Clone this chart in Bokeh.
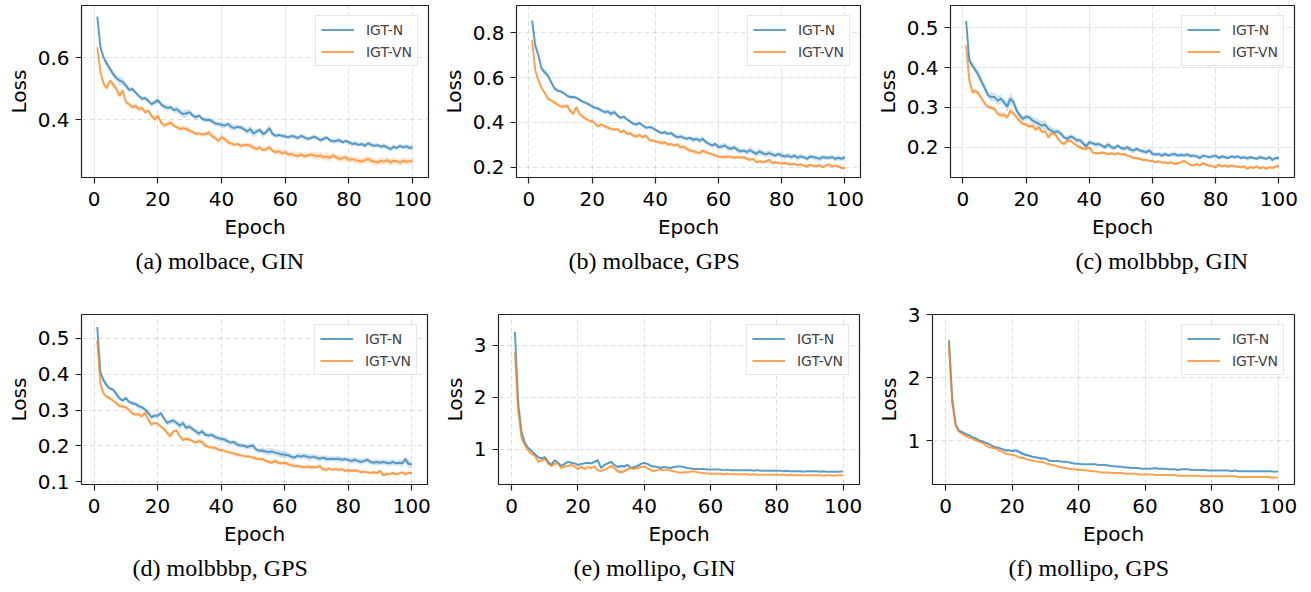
from bokeh.plotting import figure
from bokeh.layouts import row, column
from bokeh.models import FixedTicker, Range1d, Title
from bokeh.embed import file_html
from bokeh.resources import INLINE

epochs = list(range(1, 101))
xticks = [0, 20, 40, 60, 80, 100]
series_names = ["IGT-N", "IGT-VN"]

# ---------------- (a) molbace, GIN ----------------
a_n = [0.732,0.633,0.600,0.580,0.563,0.547,0.534,0.526,0.522,0.510,
       0.496,0.499,0.488,0.477,0.467,0.470,0.461,0.450,0.456,0.463,
       0.450,0.442,0.438,0.440,0.431,0.434,0.424,0.418,0.421,0.424,
       0.413,0.408,0.413,0.402,0.399,0.400,0.395,0.388,0.386,0.384,
       0.381,0.386,0.377,0.373,0.377,0.375,0.370,0.362,0.370,0.356,
       0.362,0.367,0.354,0.359,0.373,0.354,0.348,0.351,0.348,0.346,
       0.343,0.348,0.345,0.341,0.348,0.343,0.338,0.341,0.345,0.341,
       0.334,0.338,0.343,0.334,0.330,0.332,0.334,0.327,0.332,0.327,
       0.322,0.324,0.319,0.322,0.316,0.324,0.319,0.316,0.318,0.313,
       0.316,0.311,0.305,0.313,0.309,0.316,0.311,0.314,0.309,0.311]
a_vn = [0.633,0.553,0.515,0.502,0.526,0.513,0.499,0.477,0.494,0.456,
        0.450,0.440,0.445,0.434,0.438,0.424,0.429,0.413,0.402,0.413,
        0.391,0.381,0.386,0.391,0.381,0.375,0.370,0.373,0.370,0.365,
        0.361,0.354,0.356,0.352,0.354,0.359,0.348,0.341,0.332,0.343,
        0.338,0.327,0.324,0.319,0.322,0.316,0.318,0.319,0.316,0.311,
        0.305,0.311,0.302,0.305,0.311,0.300,0.295,0.298,0.292,0.295,
        0.288,0.290,0.285,0.283,0.288,0.282,0.285,0.288,0.285,0.282,
        0.285,0.279,0.282,0.277,0.285,0.279,0.273,0.277,0.279,0.270,
        0.273,0.270,0.268,0.265,0.270,0.273,0.268,0.265,0.262,0.268,
        0.265,0.270,0.262,0.268,0.266,0.262,0.268,0.265,0.266,0.266]
a_n_sd = [8,6,6,8,10,12,10,14,12,10, 8,8,6,7,8,6,8,7,9,10, 8,9,10,8,9,12,10,14,12,10,
          8,9,7,8,10,8,7,9,8,10, 9,8,12,10,8,9,7,10,12,14, 10,8,12,9,10,8,7,6,8,7,
          6,7,8,6,7,8,7,6,8,7, 8,7,6,8,7,9,8,7,6,8, 7,8,6,7,8,7,9,8,7,8, 9,8,7,8,6,8,7,9,8,8]
a_vn_sd = [6,8,10,8,7,9,8,10,8,7, 6,7,8,10,9,8,7,8,10,9, 8,7,9,8,7,6,8,7,9,8,
           7,8,6,7,8,9,8,7,10,8, 7,9,8,7,6,8,7,9,8,10, 9,8,7,8,9,7,8,9,10,8,
           9,10,8,12,10,9,8,10,12,11, 12,10,13,12,10,9,11,10,12,10, 9,10,12,10,11,10,12,10,9,11,
           10,12,10,11,9,12,10,11,10,9]

# ---------------- (b) molbace, GPS ----------------
b_n = [0.855,0.743,0.699,0.639,0.624,0.609,0.580,0.554,0.542,0.539,
       0.531,0.520,0.513,0.513,0.510,0.501,0.493,0.487,0.480,0.471,
       0.465,0.461,0.453,0.446,0.449,0.438,0.446,0.431,0.420,0.426,
       0.413,0.405,0.394,0.391,0.397,0.386,0.376,0.379,0.376,0.367,
       0.359,0.352,0.356,0.349,0.352,0.341,0.334,0.337,0.331,0.327,
       0.331,0.322,0.327,0.319,0.327,0.312,0.304,0.297,0.304,0.289,
       0.292,0.297,0.286,0.282,0.289,0.277,0.271,0.274,0.267,0.277,
       0.267,0.260,0.271,0.263,0.257,0.263,0.257,0.252,0.260,0.252,
       0.248,0.252,0.245,0.252,0.242,0.248,0.245,0.237,0.248,0.245,
       0.242,0.237,0.245,0.242,0.242,0.245,0.237,0.242,0.237,0.245]
b_vn = [0.769,0.632,0.587,0.554,0.531,0.505,0.498,0.490,0.480,0.471,
        0.471,0.475,0.453,0.438,0.468,0.438,0.426,0.416,0.408,0.405,
        0.394,0.382,0.391,0.382,0.376,0.371,0.367,0.371,0.356,0.364,
        0.349,0.352,0.341,0.337,0.344,0.334,0.341,0.322,0.319,0.316,
        0.312,0.307,0.312,0.301,0.304,0.297,0.301,0.289,0.292,0.282,
        0.274,0.271,0.267,0.263,0.274,0.267,0.263,0.257,0.252,0.248,
        0.245,0.245,0.248,0.245,0.242,0.245,0.242,0.245,0.237,0.233,
        0.237,0.222,0.227,0.222,0.225,0.233,0.218,0.222,0.219,0.218,
        0.219,0.215,0.212,0.215,0.210,0.212,0.207,0.204,0.210,0.207,
        0.204,0.210,0.200,0.207,0.212,0.203,0.207,0.204,0.196,0.196]
b_n_sd = [10,12,8,10,14,12,10,8,9,7, 8,7,9,8,7,6,8,7,9,8, 9,10,8,12,10,14,12,10,9,8,
          7,9,8,10,9,8,7,9,8,7, 9,8,10,9,8,12,10,9,11,10, 9,12,10,14,12,10,9,11,10,12,
          14,12,15,13,12,14,12,10,13,15, 14,12,16,13,12,14,15,12,11,13, 12,14,12,11,13,12,10,12,11,12,
          11,13,12,10,11,12,10,12,11,10]
b_vn_sd = [8,10,9,7,8,6,7,8,9,8, 10,9,8,11,10,9,8,7,6,8, 7,6,8,7,9,8,7,6,8,7,
           8,7,9,10,8,9,8,7,6,8, 9,10,8,7,9,8,10,9,8,12, 11,10,9,8,10,9,8,7,9,8,
           7,8,9,8,7,6,8,7,9,8, 7,6,8,7,6,8,7,6,7,8, 6,7,8,6,7,8,7,6,7,8, 7,8,6,7,8,6,7,8,7,6]

# ---------------- (c) molbbbp, GIN ----------------
c_n = [0.517,0.418,0.405,0.393,0.380,0.363,0.347,0.330,0.326,0.326,
       0.317,0.322,0.313,0.302,0.322,0.313,0.292,0.280,0.271,0.277,
       0.275,0.267,0.263,0.259,0.254,0.257,0.246,0.242,0.238,0.240,
       0.234,0.225,0.221,0.227,0.224,0.217,0.218,0.210,0.202,0.213,
       0.210,0.207,0.208,0.204,0.200,0.207,0.200,0.198,0.204,0.198,
       0.196,0.200,0.194,0.192,0.196,0.192,0.190,0.187,0.192,0.183,
       0.182,0.183,0.179,0.183,0.179,0.182,0.183,0.179,0.181,0.179,
       0.182,0.178,0.179,0.177,0.173,0.179,0.177,0.175,0.177,0.179,
       0.173,0.177,0.175,0.173,0.177,0.175,0.177,0.173,0.175,0.172,
       0.175,0.173,0.171,0.175,0.173,0.171,0.175,0.168,0.173,0.173]
c_vn = [0.456,0.368,0.338,0.342,0.334,0.321,0.309,0.301,0.299,0.296,
        0.284,0.280,0.282,0.275,0.292,0.285,0.275,0.265,0.259,0.257,
        0.252,0.254,0.244,0.250,0.238,0.240,0.225,0.235,0.234,0.223,
        0.213,0.208,0.215,0.217,0.210,0.204,0.200,0.196,0.196,0.200,
        0.187,0.185,0.185,0.187,0.185,0.183,0.185,0.182,0.185,0.182,
        0.183,0.179,0.177,0.173,0.173,0.171,0.168,0.168,0.166,0.165,
        0.162,0.165,0.161,0.162,0.160,0.162,0.158,0.160,0.162,0.166,
        0.160,0.156,0.154,0.158,0.154,0.160,0.156,0.154,0.152,0.150,
        0.156,0.152,0.154,0.151,0.154,0.152,0.151,0.150,0.152,0.146,
        0.150,0.148,0.152,0.147,0.150,0.146,0.150,0.148,0.151,0.154]
c_n_sd = [10,12,10,8,12,10,9,8,12,10, 12,10,9,14,16,12,10,9,8,7, 8,9,12,10,11,12,9,8,10,7,
          6,7,8,6,7,8,6,7,8,7, 6,7,5,6,7,8,6,7,5,6, 7,6,8,7,6,5,7,6,8,7,
          6,5,7,6,5,6,7,5,6,5, 6,5,4,5,6,5,4,5,6,5, 5,6,5,4,5,6,5,4,5,6, 5,4,5,6,5,4,5,6,5,5]
c_vn_sd = [6,8,6,7,5,6,5,4,5,6, 5,6,7,6,8,7,6,5,4,5, 4,5,6,5,4,5,6,5,4,5,
           4,5,4,5,4,3,4,5,4,3, 4,3,4,3,4,3,4,3,4,3, 3,4,3,4,3,4,3,4,3,4,
           3,4,3,4,3,4,3,4,3,4, 3,4,3,4,3,4,3,4,3,4, 3,4,3,4,3,4,3,4,3,4, 3,4,3,4,3,4,3,4,3,4]

# ---------------- (d) molbbbp, GPS ----------------
d_n = [0.532,0.406,0.383,0.369,0.360,0.357,0.345,0.333,0.326,0.334,
       0.323,0.319,0.317,0.311,0.308,0.302,0.293,0.280,0.284,0.284,
       0.291,0.277,0.264,0.268,0.271,0.264,0.256,0.264,0.250,0.254,
       0.247,0.241,0.234,0.241,0.231,0.229,0.231,0.225,0.222,0.220,
       0.218,0.213,0.209,0.211,0.204,0.201,0.201,0.197,0.199,0.201,
       0.190,0.186,0.187,0.184,0.183,0.184,0.181,0.179,0.176,0.176,
       0.174,0.170,0.167,0.172,0.170,0.172,0.170,0.167,0.170,0.167,
       0.164,0.167,0.164,0.163,0.164,0.163,0.164,0.161,0.163,0.160,
       0.158,0.161,0.158,0.155,0.158,0.161,0.155,0.153,0.155,0.153,
       0.155,0.153,0.151,0.155,0.151,0.153,0.151,0.163,0.149,0.149]
d_vn = [0.494,0.374,0.346,0.337,0.333,0.326,0.319,0.311,0.310,0.308,
        0.300,0.291,0.287,0.289,0.282,0.293,0.275,0.259,0.264,0.262,
        0.254,0.247,0.236,0.227,0.241,0.243,0.227,0.216,0.220,0.218,
        0.213,0.209,0.213,0.211,0.201,0.197,0.195,0.195,0.190,0.188,
        0.186,0.183,0.181,0.179,0.176,0.174,0.172,0.170,0.170,0.167,
        0.164,0.163,0.164,0.158,0.155,0.153,0.158,0.153,0.151,0.153,
        0.149,0.146,0.144,0.144,0.142,0.140,0.142,0.140,0.141,0.140,
        0.144,0.135,0.133,0.137,0.133,0.135,0.133,0.135,0.130,0.132,
        0.130,0.132,0.130,0.126,0.128,0.126,0.124,0.126,0.124,0.130,
        0.118,0.121,0.121,0.124,0.121,0.123,0.126,0.121,0.124,0.124]
d_n_sd = [6,8,7,6,5,6,7,6,5,6, 5,6,7,8,7,6,5,6,7,6, 7,6,8,7,9,8,10,9,8,7,
          8,7,9,8,7,8,7,9,8,7, 8,7,6,7,8,7,6,8,7,9, 8,7,9,8,10,9,8,9,10,9,
          8,9,7,8,9,8,10,9,8,9, 8,7,9,8,7,8,9,8,7,8, 9,8,7,8,9,8,7,8,9,8, 7,8,9,8,7,8,9,8,10,9]
d_vn_sd = [5,6,5,4,5,4,5,6,5,4, 5,4,6,5,4,5,6,5,4,5, 4,5,6,5,4,5,4,5,6,5,
           4,5,6,7,6,5,4,5,6,5, 4,5,4,5,6,5,4,5,4,5, 4,5,4,5,6,5,6,7,6,5,
           6,7,6,7,6,5,6,7,6,5, 6,5,6,5,4,5,6,5,4,5, 4,5,4,5,4,5,4,5,4,5, 4,5,4,5,4,5,4,5,4,5]

# ---------------- (e) mollipo, GIN ----------------
e_n = [3.26,1.87,1.33,1.12,1.03,0.97,0.91,0.85,0.82,0.85,
       0.76,0.70,0.79,0.74,0.68,0.72,0.76,0.74,0.73,0.70,
       0.72,0.73,0.74,0.73,0.76,0.79,0.64,0.70,0.73,0.76,
       0.70,0.66,0.68,0.67,0.70,0.64,0.66,0.68,0.72,0.74,
       0.72,0.68,0.67,0.66,0.64,0.66,0.65,0.64,0.66,0.67,
       0.67,0.66,0.64,0.63,0.62,0.62,0.62,0.62,0.61,0.61,
       0.61,0.61,0.61,0.60,0.61,0.60,0.60,0.60,0.60,0.60,
       0.60,0.60,0.59,0.60,0.59,0.59,0.59,0.59,0.59,0.59,
       0.59,0.58,0.59,0.58,0.58,0.58,0.58,0.57,0.58,0.58,
       0.58,0.58,0.57,0.58,0.57,0.57,0.57,0.57,0.57,0.58]
e_vn = [2.87,1.75,1.21,1.08,0.98,0.91,0.88,0.76,0.78,0.82,
        0.73,0.68,0.72,0.73,0.64,0.67,0.68,0.70,0.67,0.62,
        0.67,0.62,0.66,0.64,0.67,0.60,0.58,0.61,0.64,0.68,
        0.64,0.58,0.56,0.58,0.62,0.64,0.62,0.64,0.66,0.67,
        0.64,0.60,0.58,0.60,0.61,0.60,0.61,0.59,0.58,0.56,
        0.55,0.56,0.56,0.57,0.58,0.56,0.55,0.54,0.54,0.53,
        0.53,0.53,0.53,0.52,0.53,0.52,0.52,0.52,0.52,0.52,
        0.52,0.51,0.52,0.51,0.51,0.51,0.51,0.51,0.51,0.51,
        0.51,0.51,0.50,0.51,0.50,0.50,0.50,0.50,0.50,0.50,
        0.50,0.50,0.50,0.49,0.50,0.50,0.49,0.50,0.50,0.50]
e_n_sd = [30,25,20,15,12,10,12,15,20,18, 15,12,15,12,10,12,14,12,10,12, 14,12,15,18,25,35,25,20,15,18,
          20,25,30,28,20,15,12,10,15,18, 15,12,10,12,14,12,10,8,10,8, 8,7,8,7,6,7,6,7,6,5,
          6,5,6,5,6,5,6,5,6,5, 5,6,5,6,5,6,5,6,5,6, 5,6,5,6,5,6,5,6,5,6, 5,6,5,6,5,6,5,6,5,6]
e_vn_sd = [25,20,15,12,10,12,10,12,15,12, 12,10,12,14,12,10,12,10,12,10, 12,10,12,10,12,14,12,15,20,25,
           30,38,42,35,25,20,15,12,10,12, 10,12,10,8,10,8,7,8,7,6, 6,5,6,5,6,5,6,5,6,5,
           5,4,5,4,5,4,5,4,5,4, 5,4,5,4,5,4,5,4,5,4, 5,4,5,4,5,4,5,4,5,4, 5,4,5,4,5,4,5,4,5,4]

# ---------------- (f) mollipo, GPS ----------------
f_n = [2.59,1.64,1.26,1.16,1.14,1.11,1.09,1.06,1.04,1.01,
       0.99,0.97,0.95,0.92,0.90,0.89,0.87,0.85,0.85,0.84,
       0.85,0.83,0.80,0.78,0.77,0.75,0.74,0.73,0.72,0.72,
       0.69,0.68,0.68,0.68,0.67,0.67,0.66,0.65,0.64,0.64,
       0.63,0.63,0.63,0.63,0.63,0.62,0.62,0.62,0.61,0.60,
       0.60,0.59,0.59,0.58,0.58,0.57,0.57,0.57,0.56,0.56,
       0.56,0.56,0.57,0.56,0.56,0.56,0.55,0.55,0.55,0.54,
       0.55,0.55,0.55,0.54,0.54,0.54,0.54,0.54,0.53,0.53,
       0.53,0.53,0.53,0.53,0.53,0.52,0.53,0.52,0.52,0.52,
       0.52,0.52,0.52,0.52,0.52,0.52,0.52,0.52,0.51,0.52]
f_vn = [2.53,1.61,1.25,1.15,1.11,1.08,1.05,1.04,1.01,0.99,
        0.97,0.93,0.90,0.89,0.88,0.85,0.83,0.80,0.79,0.78,
        0.77,0.74,0.73,0.72,0.70,0.69,0.68,0.67,0.67,0.65,
        0.63,0.62,0.61,0.59,0.58,0.57,0.56,0.55,0.55,0.54,
        0.54,0.53,0.53,0.52,0.52,0.51,0.50,0.50,0.50,0.49,
        0.49,0.49,0.49,0.48,0.48,0.48,0.48,0.47,0.47,0.47,
        0.47,0.47,0.46,0.46,0.46,0.46,0.46,0.46,0.46,0.45,
        0.45,0.45,0.45,0.45,0.45,0.45,0.44,0.44,0.44,0.44,
        0.44,0.44,0.44,0.44,0.44,0.44,0.44,0.43,0.43,0.43,
        0.43,0.43,0.43,0.43,0.43,0.43,0.43,0.42,0.42,0.42]
f_n_sd = [30,20,15,12,10,9,8,9,8,7, 8,9,8,9,10,12,15,20,25,28, 30,28,25,22,20,18,20,22,15,12,
          10,9,8,9,8,9,8,7,8,7, 8,7,8,7,8,7,8,7,8,7, 7,6,7,6,7,6,7,6,7,6,
          6,7,6,7,6,7,6,7,6,7, 6,7,6,7,6,7,6,7,6,7, 6,7,6,7,6,7,6,7,6,7, 6,7,6,7,6,7,6,7,6,7]
f_vn_sd = [20,15,10,8,7,6,7,6,7,6, 7,6,7,8,7,8,9,10,9,8, 9,8,7,8,7,6,7,6,7,6,
           5,6,5,6,5,6,5,6,5,6, 5,6,5,6,5,6,5,6,5,6, 5,6,5,6,5,6,5,6,5,6,
           5,6,5,6,5,6,5,6,5,6, 5,6,5,6,5,6,5,6,5,6, 5,6,5,6,5,6,5,6,5,6, 5,6,5,6,5,6,5,6,5,6]

BLUE = "#1f77b4"
ORANGE = "#ff7f0e"
DARK = "#222222"
FONT = "DejaVu Sans"


def panel(n, vn, n_sd, vn_sd, y0, y1, yticks, caption,
          w, h, bl, br, bt, bb, cap_off):
    p = figure(width=w, height=h, x_range=Range1d(-3.95, 104.95), y_range=Range1d(y0, y1),
               output_backend="svg", toolbar_location=None,
               min_border_left=bl, min_border_right=br, min_border_top=bt, min_border_bottom=bb)
    p.background_fill_color = "white"
    p.border_fill_color = "white"
    p.outline_line_color = DARK
    p.outline_line_width = 1.2

    for m, sd, col, lab in ((n, n_sd, BLUE, series_names[0]), (vn, vn_sd, ORANGE, series_names[1])):
        lo = [v - s / 1000.0 for v, s in zip(m, sd)]
        hi = [v + s / 1000.0 for v, s in zip(m, sd)]
        p.varea(x=epochs, y1=lo, y2=hi, fill_color=col, fill_alpha=0.2)
        p.line(epochs, m, line_color=col, line_alpha=0.7, line_width=2, legend_label=lab)

    p.xaxis.ticker = FixedTicker(ticks=xticks)
    p.yaxis.ticker = FixedTicker(ticks=yticks)
    p.xaxis.axis_label = "Epoch"
    p.yaxis.axis_label = "Loss"
    for ax in (p.xaxis[0], p.yaxis[0]):
        ax.axis_line_color = None
        ax.major_tick_out = 6
        ax.major_tick_in = 0
        ax.minor_tick_out = 0
        ax.minor_tick_in = 0
        ax.major_tick_line_color = DARK
        ax.major_tick_line_width = 1.2
        ax.major_label_text_font = FONT
        ax.major_label_text_font_size = "20px"
        ax.major_label_text_color = "black"
        ax.axis_label_text_font = FONT
        ax.axis_label_text_font_size = "20px"
        ax.axis_label_text_font_style = "normal"
        ax.axis_label_text_color = "black"
    p.xaxis.major_label_standoff = 8
    p.xaxis.axis_label_standoff = 6
    p.yaxis.major_label_standoff = 6
    p.yaxis.axis_label_standoff = 4

    for g in (p.xgrid[0], p.ygrid[0]):
        g.grid_line_color = "#b0b0b0"
        g.grid_line_alpha = 0.4
        g.grid_line_dash = "5 3"
        g.grid_line_width = 1

    leg = p.legend[0]
    leg.location = "top_right"
    leg.label_text_font = FONT
    leg.label_text_font_size = "14px"
    leg.glyph_width = 33
    leg.glyph_height = 17
    leg.label_height = 17
    leg.label_standoff = 12
    leg.padding = 5
    leg.spacing = 5
    leg.margin = 10
    leg.border_line_color = "#cccccc"
    leg.border_line_width = 1
    leg.background_fill_alpha = 0.8

    p.add_layout(Title(text=caption, align="left", offset=cap_off, vertical_align="top",
                       standoff=12, text_font="Liberation Serif", text_font_size="24px",
                       text_font_style="normal", text_color="black"), "below")
    return p


# the page has no body margin (Bokeh's template), so positions are taken from the window corner
pa = panel(a_n, a_vn, a_n_sd, a_vn_sd, 0.2139, 0.7677, [0.4, 0.6], "(a) molbace, GIN",
           437, 290, 81, 9, 5, 113, 54)
pb = panel(b_n, b_vn, b_n_sd, b_vn_sd, 0.154, 0.922, [0.2, 0.4, 0.6, 0.8], "(b) molbace, GPS",
           433, 290, 79, 10, 5, 113, 52)
pc = panel(c_n, c_vn, c_n_sd, c_vn_sd, 0.124, 0.556, [0.2, 0.3, 0.4, 0.5], "(c) molbbbp, GIN",
           439, 290, 80, 15, 5, 113, 125)
pd_ = panel(d_n, d_vn, d_n_sd, d_vn_sd, 0.092, 0.567, [0.1, 0.2, 0.3, 0.4, 0.5], "(d) molbbbp, GPS",
            437, 301, 81, 10, 24, 105, 51)
pe = panel(e_n, e_vn, e_n_sd, e_vn_sd, 0.324, 3.59, [1, 2, 3], "(e) mollipo, GIN",
           433, 301, 61, 11, 15, 107, 75)
pf = panel(f_n, f_vn, f_n_sd, f_vn_sd, 0.31, 3.0, [1, 2, 3], "(f) mollipo, GPS",
           439, 301, 62, 15, 15, 107, 76)

layout = column(row(pa, pb, pc), row(pd_, pe, pf))
open("out.html", "w").write(file_html(layout, INLINE))
